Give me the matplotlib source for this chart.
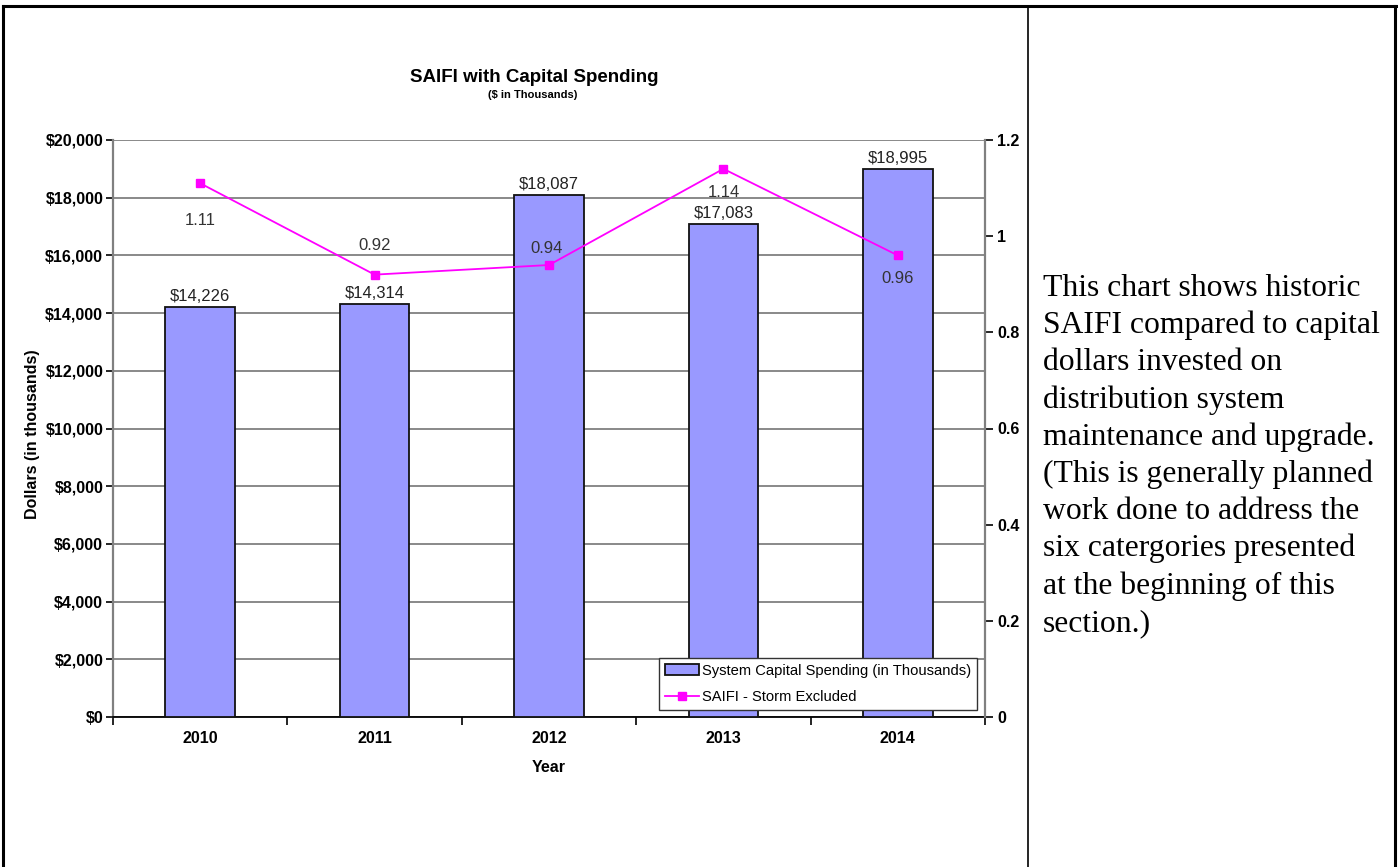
import matplotlib
matplotlib.use("Agg")
import matplotlib.pyplot as plt
from matplotlib.lines import Line2D
from matplotlib.patches import Patch
import numpy as np

years = ["2010", "2011", "2012", "2013", "2014"]
spending = [14226, 14314, 18087, 17083, 18995]
saifi = [1.11, 0.92, 0.94, 1.14, 0.96]
left_ticks = [0, 2000, 4000, 6000, 8000, 10000, 12000, 14000, 16000, 18000, 20000]
right_ticks = [0, 0.2, 0.4, 0.6, 0.8, 1, 1.2]

description_lines = [
    "This chart shows historic",
    "SAIFI compared to capital",
    "dollars invested on",
    "distribution system",
    "maintenance and upgrade.",
    "(This is generally planned",
    "work done to address the",
    "six catergories presented",
    "at the beginning of this",
    "section.)",
]

# pixel offsets (dx right, dy down) of the SAIFI value labels from their markers
saifi_label_offsets = [(0, 37), (0, -29), (-2, -17), (0, 24), (0, 23)]

W, H = 1398, 867
plt.rcParams['font.family'] = ['Liberation Sans', 'DejaVu Sans']
fig = plt.figure(figsize=(W / 100, H / 100), dpi=100)


def fx(px):
    return px / W


def fy(py):
    return 1 - py / H


# table-cell borders
border = dict(color="black", lw=2.2, transform=fig.transFigure)
fig.add_artist(Line2D([fx(3), fx(1396)], [fy(6), fy(6)], **border))
fig.add_artist(Line2D([fx(3), fx(3)], [fy(6), fy(867)], **border))
fig.add_artist(Line2D([fx(1395), fx(1395)], [fy(6), fy(867)], **border))
fig.add_artist(Line2D([fx(1028), fx(1028)], [fy(6), fy(867)], color="black", lw=1.2,
                      transform=fig.transFigure))

ax_l, ax_r, ax_t, ax_b = 113, 985, 140, 717
ax = fig.add_axes([fx(ax_l), fy(ax_b), fx(ax_r - ax_l), (ax_b - ax_t) / H])
ax2 = ax.twinx()

x = np.arange(len(years))
bar_color = "#9999ff"
ax.bar(x, spending, width=0.4, color=bar_color, edgecolor="#111111", linewidth=1.3, zorder=3)
ax.set_xlim(-0.5, len(years) - 0.5)
ax.set_ylim(0, 20000)
ax.set_yticks(left_ticks)
ax.set_yticklabels([f"${v:,}" for v in left_ticks], fontsize=11.5, fontweight="bold")
ax.yaxis.grid(True, color="#808080", lw=1.3, zorder=0)
ax.set_axisbelow(True)
ax.set_xticks(x)
ax.set_xticklabels(years, fontsize=11.5, fontweight="bold")
ax.tick_params(axis="x", length=0, pad=10)
ax.set_xticks(np.arange(-0.5, len(years)), minor=True)
ax.tick_params(axis="x", which="minor", length=6, width=1.2, color="black")
ax.tick_params(axis="y", length=5, width=1.2, color="black", pad=2)
ax.spines["top"].set_visible(False)
ax.spines["right"].set_visible(False)
ax.spines["left"].set_color("#808080")
ax.spines["left"].set_linewidth(1.6)
ax.spines["bottom"].set_color("black")
ax.spines["bottom"].set_linewidth(1.3)

for xi, v in zip(x, spending):
    ax.annotate(f"${v:,}", (xi, v), xytext=(0, 2), textcoords="offset points",
                ha="center", va="bottom", fontsize=12, color="#222222", zorder=5)

ax2.set_ylim(0, 1.2)
ax2.set_yticks(right_ticks)
ax2.set_yticklabels([f"{v:g}" for v in right_ticks], fontsize=11.5, fontweight="bold")
ax2.tick_params(axis="y", length=6, width=1.2, color="black", pad=3)
for s in ["top", "left", "bottom"]:
    ax2.spines[s].set_visible(False)
ax2.spines["right"].set_color("#808080")
ax2.spines["right"].set_linewidth(1.6)

line_color = "#ff00ff"
ax2.plot(x, saifi, color=line_color, lw=1.3, marker="s", markersize=6, zorder=6)
for xi, v, (dx, dy) in zip(x, saifi, saifi_label_offsets):
    ax2.annotate(f"{v:g}", (xi, v), xytext=(dx * 0.72, -dy * 0.72), textcoords="offset points",
                 ha="center", va="center", fontsize=12, color="#333333")

# titles and axis labels
fig.text(fx(534), fy(77), "SAIFI with Capital Spending", ha="center", va="center",
         fontsize=13.5, fontweight="bold")
fig.text(fx(533), fy(95), "($ in Thousands)", ha="center", va="center",
         fontsize=8, fontweight="bold")
fig.text(fx(33), fy(434), "Dollars (in thousands)", ha="center", va="center", rotation=90,
         fontsize=11.5, fontweight="bold")
fig.text(fx(549), fy(767), "Year", ha="center", va="center", fontsize=11.5, fontweight="bold")

handles = [Patch(facecolor=bar_color, edgecolor="#111111", linewidth=1.3),
           Line2D([], [], color=line_color, lw=1.3, marker="s", markersize=6)]
leg = ax2.legend(handles, ["System Capital Spending (in Thousands)", "SAIFI - Storm Excluded"],
                 loc="lower left",
                 bbox_to_anchor=((659 - ax_l) / (ax_r - ax_l), (ax_b - 710) / (ax_b - ax_t)),
                 borderaxespad=0, fontsize=10.6, frameon=True, fancybox=False,
                 edgecolor="#333333", framealpha=1,
                 handlelength=2.3, handletextpad=0.2, borderpad=0.4, labelspacing=0.85)
leg.get_frame().set_linewidth(1.0)
leg.set_zorder(10)

# description beside the chart
for i, line in enumerate(description_lines):
    fig.text(fx(1043), fy(296 + i * 37.2), line, ha="left", va="baseline", fontsize=22.8,
             family=["Liberation Serif", "DejaVu Serif"])

fig.savefig("out.png", dpi=100)
